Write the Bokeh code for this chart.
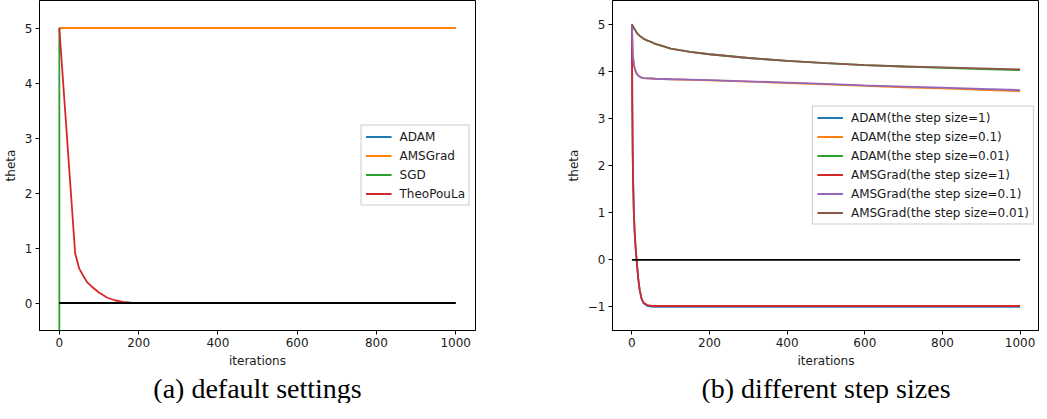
from bokeh.plotting import figure
from bokeh.models import Legend, LegendItem, Title, FixedTicker, Range1d
from bokeh.layouts import row
from bokeh.embed import file_html
from bokeh.resources import INLINE

# ---------------- data: (a) default settings ----------------
iters_const = [0, 1000]
adam_default = [5.0, 5.0]
amsgrad_default = [5.0, 5.0]
iters_sgd = [0, 1]
sgd_default = [5.0, -100.0]
iters_theo = [0, 40, 50, 60, 70, 80, 90, 100, 120, 140, 160, 180, 200, 1000]
theopoula_default = [5.0, 0.9, 0.63, 0.50, 0.38, 0.31, 0.25, 0.19, 0.10, 0.05, 0.02, 0.005, 0.0, 0.0]
iters_zero = [0, 1000]
zero_line = [0.0, 0.0]

# ---------------- data: (b) different step sizes ----------------
iters_b = [0, 1, 2, 3, 5, 7, 10, 13, 16, 20, 25, 30, 40, 50, 60, 80, 100,
           150, 200, 300, 400, 500, 600, 700, 800, 900, 1000]
adam_1 = [5.0, 3.3, 2.3, 1.7, 1.0, 0.6, 0.2, -0.08, -0.38, -0.64, -0.83, -0.92, -0.98, -0.995,
          -1.0, -1.0, -1.0, -1.0, -1.0, -1.0, -1.0, -1.0, -1.0, -1.0, -1.0, -1.0, -1.0]
adam_01 = [5.0, 4.7, 4.45, 4.3, 4.15, 4.07, 3.99, 3.94, 3.91, 3.885, 3.865, 3.855, 3.85, 3.845,
           3.84, 3.835, 3.83, 3.815, 3.805, 3.78, 3.75, 3.72, 3.69, 3.66, 3.635, 3.605, 3.575]
adam_001 = [5.0, 4.98, 4.96, 4.95, 4.92, 4.89, 4.85, 4.81, 4.78, 4.75, 4.72, 4.69, 4.65, 4.62,
            4.58, 4.53, 4.48, 4.41, 4.36, 4.28, 4.22, 4.17, 4.13, 4.10, 4.07, 4.045, 4.025]
amsgrad_1 = [5.0, 3.3, 2.3, 1.7, 1.0, 0.6, 0.2, -0.08, -0.38, -0.64, -0.83, -0.91, -0.96, -0.975,
             -0.98, -0.98, -0.98, -0.98, -0.98, -0.98, -0.98, -0.98, -0.98, -0.98, -0.98, -0.98, -0.98]
amsgrad_01 = [5.0, 4.7, 4.45, 4.3, 4.15, 4.07, 3.99, 3.94, 3.91, 3.885, 3.865, 3.855, 3.85, 3.845,
              3.84, 3.835, 3.83, 3.82, 3.81, 3.785, 3.76, 3.73, 3.70, 3.675, 3.65, 3.625, 3.60]
amsgrad_001 = [5.0, 4.98, 4.96, 4.95, 4.92, 4.89, 4.85, 4.81, 4.78, 4.75, 4.72, 4.69, 4.65, 4.62,
               4.58, 4.53, 4.48, 4.41, 4.36, 4.28, 4.22, 4.17, 4.13, 4.10, 4.08, 4.06, 4.04]

x_ticks = [0, 200, 400, 600, 800, 1000]
y_ticks_a = [0, 1, 2, 3, 4, 5]
y_ticks_b = [-1, 0, 1, 2, 3, 4, 5]

labels_a = ["ADAM", "AMSGrad", "SGD", "TheoPouLa"]
labels_b = ["ADAM(the step size=1)", "ADAM(the step size=0.1)", "ADAM(the step size=0.01)",
            "AMSGrad(the step size=1)", "AMSGrad(the step size=0.1)", "AMSGrad(the step size=0.01)"]
captions = ["(a) default settings", "(b) different step sizes"]

COLORS = ["#1f77b4", "#ff7f0e", "#2ca02c", "#d62728", "#9467bd", "#8c564b"]
LW = 1.8
TXT = "#1a1a1a"


def style(p, yticks):
    p.xgrid.visible = False
    p.ygrid.visible = False
    p.outline_line_color = "black"
    p.outline_line_width = 1
    p.outline_line_alpha = 1
    p.background_fill_color = "white"
    p.border_fill_color = "white"
    p.xaxis.ticker = FixedTicker(ticks=x_ticks)
    p.yaxis.ticker = FixedTicker(ticks=yticks)
    for ax in (p.xaxis[0], p.yaxis[0]):
        ax.axis_line_color = "black"
        ax.axis_line_width = 1
        ax.major_tick_in = 0
        ax.major_tick_out = 4
        ax.major_tick_line_color = "black"
        ax.minor_tick_in = 0
        ax.minor_tick_out = 0
        ax.major_label_standoff = 3
        ax.major_label_text_font = "DejaVu Sans"
        ax.major_label_text_font_size = "12px"
        ax.major_label_text_color = TXT
        ax.axis_label_text_font = "DejaVu Sans"
        ax.axis_label_text_font_size = "12px"
        ax.axis_label_text_font_style = "normal"
        ax.axis_label_text_color = TXT
        ax.axis_label_standoff = 4
    p.xaxis.axis_label = "iterations"
    p.yaxis.axis_label = "theta"


def add_legend(p, items):
    lg = Legend(items=items, location="center_right")
    lg.border_line_color = "#cccccc"
    lg.border_line_alpha = 1
    lg.border_line_width = 1
    lg.background_fill_color = "white"
    lg.background_fill_alpha = 0.8
    lg.label_text_font = "DejaVu Sans"
    lg.label_text_font_size = "12px"
    lg.label_text_color = TXT
    lg.glyph_width = 26
    lg.glyph_height = 14
    lg.label_height = 14
    lg.spacing = 5
    lg.padding = 4
    lg.margin = 5
    lg.label_standoff = 8
    p.add_layout(lg)


def add_caption(p, text):
    t = Title(text=text, align="center", text_font="Liberation Serif",
              text_font_size="28px", text_font_style="normal", text_color="black",
              text_line_height=1.0, standoff=0, vertical_align="bottom")
    p.add_layout(t, "below")


H = 403

# ---------------- figure (a) ----------------
p1 = figure(frame_width=436, height=H, output_backend="svg", toolbar_location=None,
            x_range=Range1d(-50, 1050), y_range=Range1d(-0.5, 5.5),
            min_border_left=34, min_border_right=88, min_border_top=0, min_border_bottom=0)
style(p1, y_ticks_a)
r_a = [
    p1.line(iters_const, adam_default, line_color=COLORS[0], line_width=LW),
    p1.line(iters_const, amsgrad_default, line_color=COLORS[1], line_width=LW),
    p1.line(iters_sgd, sgd_default, line_color=COLORS[2], line_width=LW),
    p1.line(iters_theo, theopoula_default, line_color=COLORS[3], line_width=LW),
]
p1.line(iters_zero, zero_line, line_color="black", line_width=LW)
add_legend(p1, [LegendItem(label=l, renderers=[r]) for l, r in zip(labels_a, r_a)])
add_caption(p1, captions[0])

# ---------------- figure (b) ----------------
p2 = figure(frame_width=427, height=H, output_backend="svg", toolbar_location=None,
            x_range=Range1d(-50, 1050), y_range=Range1d(-1.5, 5.5),
            min_border_left=46, min_border_right=0, min_border_top=0, min_border_bottom=0)
style(p2, y_ticks_b)
p2.yaxis.major_label_overrides = {-1: "\u22121"}
series_b = [adam_1, adam_01, adam_001, amsgrad_1, amsgrad_01, amsgrad_001]
r_b = [p2.line(iters_b, s, line_color=c, line_width=LW) for s, c in zip(series_b, COLORS)]
p2.line(iters_zero, zero_line, line_color="black", line_width=LW)
add_legend(p2, [LegendItem(label=l, renderers=[r]) for l, r in zip(labels_b, r_b)])
add_caption(p2, captions[1])

layout = row(p1, p2)
open("out.html", "w").write(file_html(layout, INLINE))
